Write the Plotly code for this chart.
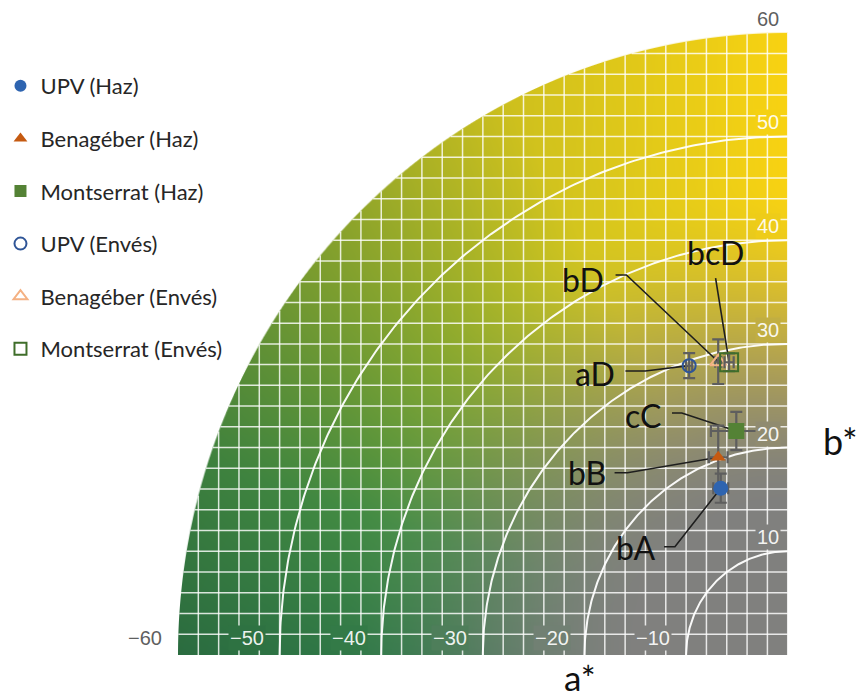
import base64
import struct
import zlib

import numpy as np
import plotly.graph_objects as go

# ---------------------------------------------------------------- data ----
SERIES = ["UPV (Haz)", "Benagéber (Haz)", "Montserrat (Haz)",
          "UPV (Envés)", "Benagéber (Envés)", "Montserrat (Envés)"]
A_STAR = [-3.38, -3.63, -1.85, -6.49, -3.63, -2.56]
B_STAR = [14.73, 17.71, 20.25, 26.55, 26.93, 26.88]
A_ERR = [0.73, 0.92, 2.5, 0.3, 0.3, 0.45]
B_ERR = [1.4, 3.05, 1.85, 1.2, 2.15, 0.85]
LETTERS = ["bA", "bB", "cC", "aD", "bD", "bcD"]

A_TICKS = [-60, -50, -40, -30, -20, -10]
B_TICKS = [10, 20, 30, 40, 50, 60]

# ------------------------------------------------------------- styling ----
COLORS = ["#2E64B0", "#C55A11", "#548235", "#2F5597", "#F4B183", "#3F6E2A"]
SYMBOLS = ["circle", "triangle-up", "square",
           "circle-open", "triangle-up-open", "square-open"]
SIZES = [15, 13, 16, 13, 14, 18]
DRAW_ORDER = [1, 0, 2, 3, 4, 5]          # triangle first so the dot sits on its bar

# where each significance letter sits and where its leader bends
LETTER_POS = [(-11.78, 8.97), (-16.55, 16.2), (-11.0, 21.7),
              (-15.77, 25.84), (-16.94, 34.9), (-3.89, 37.42)]
LEADER_START = [(-8.96, 9.09), (-13.83, 16.23), (-8.18, 21.99),
                (-12.76, 26.04), (-13.73, 35.29), (-3.89, 35.0)]
LEADER_ELBOW = [(-7.89, 9.09), (-12.56, 16.23), (-7.21, 21.99),
                (-10.81, 26.04), (-12.66, 35.29), (-3.89, 35.0)]

X_RANGE = [-73.42, 10.42]
Y_RANGE = [-5.69, 61.81]

# the printed colour quadrant sits slightly off the a*/b* origin
DISC_CX, DISC_CY, DISC_R = 3.21, -1.35, 60.0


def chart_rgb(a, b):
    """Colour of the a*b* chart at (a, b) relative to the quadrant centre."""
    a = np.asarray(a, float)
    b = np.asarray(b, float)
    r = np.hypot(a, b)
    t = np.clip(np.arctan2(b, -a) / (np.pi / 2), 0, 1)
    keys_t = [0.0, 0.2, 0.45, 0.7, 1.0]
    keys_c = np.array([[48, 122, 72], [68, 142, 68], [138, 170, 48],
                       [214, 199, 30], [248, 210, 18]], float)
    full = np.stack([np.interp(t, keys_t, keys_c[:, k]) for k in range(3)], -1)
    # deeper green towards the outer rim on the green side
    dark = 1 - 0.12 * np.clip((r - 40) / 20, 0, 1) * (1 - t)
    full = full * dark[..., None]
    s = np.clip((r - 14) / (46 - 14), 0, 1)
    s = s * s * (3 - 2 * s)
    gray = np.array([128, 128, 126], float)
    return gray + (full - gray) * s[..., None]


def png_uri(rgba):
    h, w, _ = rgba.shape
    raw = b"".join(b"\x00" + rgba[i].tobytes() for i in range(h))

    def chunk(tag, data):
        return (struct.pack(">I", len(data)) + tag + data
                + struct.pack(">I", zlib.crc32(tag + data) & 0xFFFFFFFF))

    png = (b"\x89PNG\r\n\x1a\n"
           + chunk(b"IHDR", struct.pack(">IIBBBBB", w, h, 8, 6, 0, 0, 0))
           + chunk(b"IDAT", zlib.compress(raw, 9))
           + chunk(b"IEND", b""))
    return "data:image/png;base64," + base64.b64encode(png).decode()


# colour quadrant raster
N = 620
du = DISC_R / N
jj, ii = np.meshgrid(np.arange(N), np.arange(N))
ga = -DISC_R + (jj + 0.5) * du
gb = DISC_R - (ii + 0.5) * du
rgb = chart_rgb(ga, gb)
alpha = np.clip((DISC_R - np.hypot(ga, gb)) / du + 0.5, 0, 1)
rgba = np.dstack([rgb, alpha * 255]).round().clip(0, 255).astype(np.uint8)
quadrant_uri = png_uri(rgba)

fig = go.Figure()

# white 2-unit grid clipped to the quadrant
gx, gy = [], []
for k in range(0, 30):
    off = 2 * k
    h = np.sqrt(DISC_R ** 2 - off ** 2)
    gx += [DISC_CX - off, DISC_CX - off, None]
    gy += [DISC_CY, DISC_CY + h, None]
    if k > 0:
        gx += [DISC_CX - h, DISC_CX, None]
        gy += [DISC_CY + off, DISC_CY + off, None]
fig.add_trace(go.Scatter(x=gx, y=gy, mode="lines", hoverinfo="skip",
                         showlegend=False,
                         line=dict(color="rgba(255,255,255,0.82)", width=1.5)))

# chroma rings
th = np.linspace(np.pi / 2, np.pi, 200)
rx, ry = [], []
for rad in [10, 20, 30, 40, 50]:
    rx += list(DISC_CX + rad * np.cos(th)) + [None]
    ry += list(DISC_CY + rad * np.sin(th)) + [None]
fig.add_trace(go.Scatter(x=rx, y=ry, mode="lines", hoverinfo="skip",
                         showlegend=False,
                         line=dict(color="rgba(255,255,255,0.95)", width=2)))

# leader lines from the letters to their points
for i in range(len(SERIES)):
    fig.add_trace(go.Scatter(
        x=[LEADER_START[i][0], LEADER_ELBOW[i][0], A_STAR[i]],
        y=[LEADER_START[i][1], LEADER_ELBOW[i][1], B_STAR[i]],
        mode="lines", hoverinfo="skip", showlegend=False,
        line=dict(color="#1e1e1e", width=1.6)))

# measured points with error bars
for i in DRAW_ORDER:
    open_sym = SYMBOLS[i].endswith("open")
    fig.add_trace(go.Scatter(
        x=[A_STAR[i]], y=[B_STAR[i]], mode="markers", name=SERIES[i],
        legendgroup=SERIES[i], legendrank=i + 1,
        marker=dict(symbol=SYMBOLS[i], size=SIZES[i], color=COLORS[i],
                    line=dict(color=COLORS[i], width=2 if open_sym else 0)),
        error_x=dict(type="data", array=[A_ERR[i]], color="#5e5e5e",
                     thickness=2.2, width=6),
        error_y=dict(type="data", array=[B_ERR[i]], color="#5e5e5e",
                     thickness=2.2, width=6)))

annotations = []
for i, txt in enumerate(LETTERS):
    annotations.append(dict(x=LETTER_POS[i][0], y=LETTER_POS[i][1], text=txt,
                            showarrow=False, xanchor="center", yanchor="middle",
                            font=dict(family="Lato, sans-serif", size=32,
                                      color="#111111")))

TICK_FONT = "Liberation Sans, Arial, sans-serif"


def tick_label(x, y, text):
    inside = np.hypot(x - DISC_CX, y - DISC_CY) < DISC_R
    d = dict(x=x, y=y, text=text, showarrow=False, xanchor="center",
             yanchor="middle", borderpad=1,
             font=dict(family=TICK_FONT, size=20,
                       color="rgba(255,255,255,0.92)" if inside else "#5f5f5f"))
    if inside:
        c = chart_rgb(x - DISC_CX, y - DISC_CY)
        d["bgcolor"] = "rgb(%d,%d,%d)" % tuple(np.round(c).astype(int))
    return d


for v in A_TICKS:
    annotations.append(tick_label(v, 0.3, "\u2212%d" % abs(v)))
for v in B_TICKS:
    annotations.append(tick_label(1.25, v, "%d" % v))

# axis names
annotations.append(dict(x=577 / 861, y=0, xref="paper", yref="paper",
                        xanchor="center", yanchor="bottom",
                        text="a*", showarrow=False,
                        font=dict(family="Lato, sans-serif", size=35, color="#111111")))
annotations.append(dict(x=840 / 861, y=1 - 441 / 700, xref="paper", yref="paper",
                        xanchor="center", yanchor="middle",
                        text="b*", showarrow=False,
                        font=dict(family="Lato, sans-serif", size=36, color="#111111")))

fig.update_layout(
    width=861, height=700, margin=dict(l=0, r=0, t=0, b=0),
    paper_bgcolor="white", plot_bgcolor="rgba(0,0,0,0)",
    xaxis=dict(range=X_RANGE, visible=False, fixedrange=True),
    yaxis=dict(range=Y_RANGE, visible=False, fixedrange=True),
    images=[dict(source=quadrant_uri, xref="x", yref="y",
                 x=DISC_CX - DISC_R, y=DISC_CY + DISC_R,
                 sizex=DISC_R, sizey=DISC_R, sizing="stretch",
                 xanchor="left", yanchor="top", layer="below")],
    annotations=annotations,
    showlegend=True,
    legend=dict(x=-0.01, y=1 - 65 / 700, xanchor="left", yanchor="top",
                font=dict(family="Lato, sans-serif", size=22, color="#262626"),
                tracegroupgap=21, itemsizing="constant",
                bgcolor="rgba(0,0,0,0)"),
)

fig.write_html("out.html")
